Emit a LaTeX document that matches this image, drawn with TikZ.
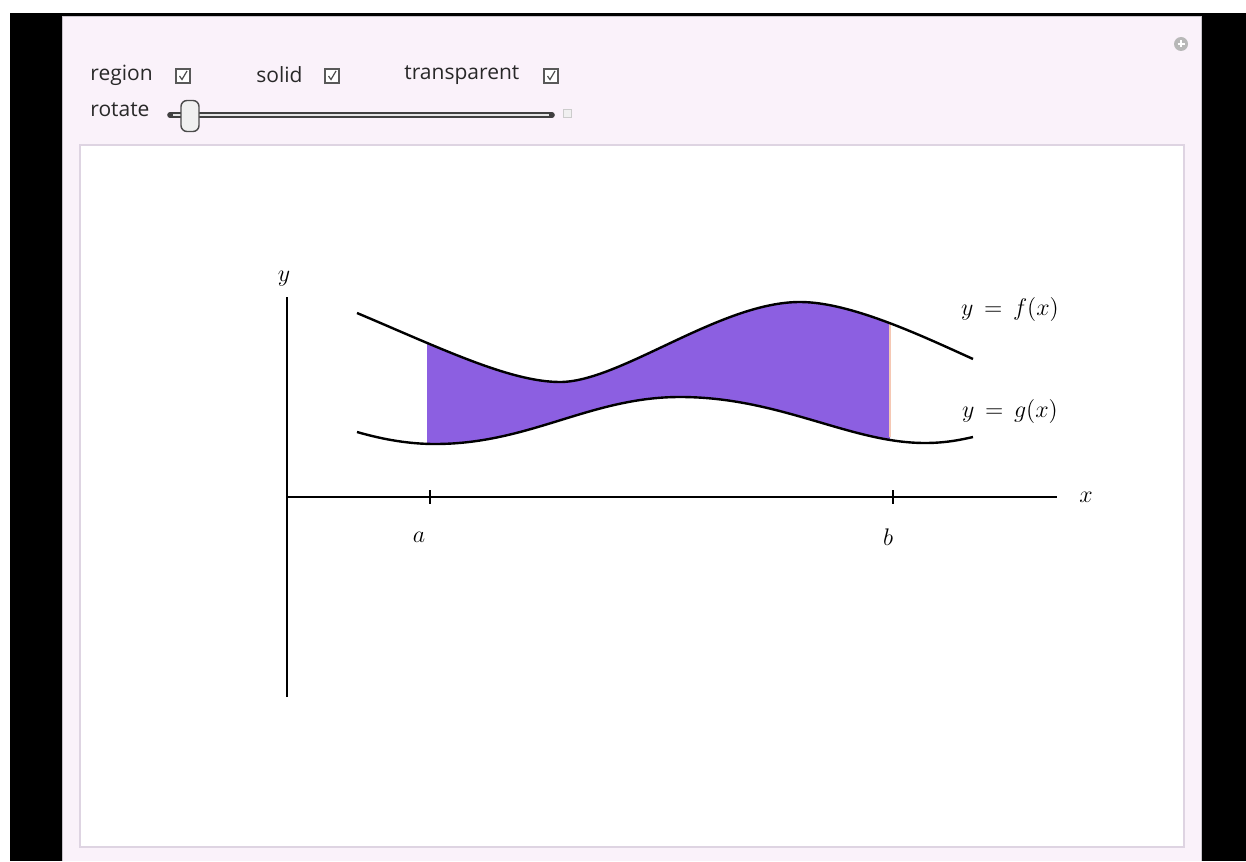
\documentclass[tikz,border=0pt]{standalone}
\usepackage{fontspec}
\newfontfamily\uifont{Open Sans}
\usetikzlibrary{calc}
\definecolor{panelpink}{RGB}{250,242,250}
\definecolor{panelborder}{RGB}{200,195,202}
\definecolor{innerborder}{RGB}{222,212,226}
\definecolor{regionfill}{RGB}{140,95,225}
\definecolor{uitext}{RGB}{40,40,40}
\definecolor{edgepeach}{RGB}{245,200,180}
\tikzset{
  uilabel/.style={font=\uifont\fontsize{10.5}{12}\selectfont, text=uitext, inner sep=0pt},
  mathlabel/.style={font=\fontsize{13}{15}\selectfont, inner sep=0pt},
  checkbox/.style={draw=black!65, line width=0.6pt, fill=white, minimum size=7pt, inner sep=0pt},
  curve/.style={line width=1.2pt, black},
  axis/.style={black, line width=0.8pt},
}
\newcommand{\checkmarkin}[1]{\draw[black!70, line width=0.6pt] ($(#1)+(-3.5,0)$) -- ($(#1)+(-1,3.5)$) -- ($(#1)+(4,-5)$);}
\begin{document}
\begin{tikzpicture}[x=0.5pt,y=-0.5pt]
\useasboundingbox (0,0) rectangle (1246,861);
\fill[white] (0,0) rectangle (1246,861);
% black frame
\fill[black] (10,13) rectangle (1246,861);
% pink panel
\fill[panelpink] (62,16) rectangle (1202,861);
\draw[panelborder, line width=0.8pt] (62.5,861) -- (62.5,16.5) -- (1201.5,16.5) -- (1201.5,861);
% inner white panel
\fill[white] (80,145) rectangle (1184,847);
\draw[innerborder, line width=1pt] (80,145) rectangle (1184,847);
% plus icon top right
\fill[black!28] (1181,44) circle (7);
\draw[white, line width=1.3pt] (1177.5,44) -- (1184.5,44) (1181,40.5) -- (1181,47.5);
% controls
\node[uilabel, anchor=west] (lregion) at (90,75) {region};
\node[checkbox] (cregion) at (183,76) {};
\checkmarkin{cregion}
\node[uilabel, anchor=west] (lsolid) at (256,75) {solid};
\node[checkbox] (csolid) at (332,76) {};
\checkmarkin{csolid}
\node[uilabel, anchor=west] (ltransp) at (404,75) {transparent};
\node[checkbox] (ctransp) at (551,76) {};
\checkmarkin{ctransp}
\node[uilabel, anchor=west] (lrotate) at (90,110) {rotate};
% slider
\coordinate (trackL) at (170,115);
\coordinate (trackR) at (552,115);
\draw[black!75, line width=2.8pt, line cap=round] (trackL) -- (trackR);
\draw[black!10, line width=0.6pt] ($(trackL)+(3,0)$) -- ($(trackR)+(-3,0)$);
\node[draw=black!70, line width=0.7pt, fill=black!6, rounded corners=3pt, minimum width=9pt, minimum height=15.5pt, inner sep=0pt] (thumb) at (190,116) {};
\node[draw=black!20, fill=black!6, minimum size=4pt, inner sep=0pt, line width=0.4pt] (sliderplus) at (567,113) {};
% axes
\coordinate (yaxisTop) at (287,297);
\coordinate (yaxisBot) at (287,697);
\coordinate (xaxisL) at (287,497);
\coordinate (xaxisR) at (1057,497);
\draw[black, line width=1.4pt] (yaxisBot) -- (yaxisTop);
\draw[axis] (xaxisL) -- (xaxisR);
\coordinate (ta) at (430,497);
\coordinate (tb) at (893,497);
\draw[axis] ($(ta)+(0,-7)$) -- ($(ta)+(0,7)$);
\draw[axis] ($(tb)+(0,-7)$) -- ($(tb)+(0,7)$);
% region fill
\begin{scope}
\clip (427,250) rectangle (890,460);
\fill[regionfill] (357,313) .. controls (440,348) and (510,382) .. (560,382)
  .. controls (620,382) and (720,302) .. (800,302)
  .. controls (850,302) and (920,335) .. (973,359)
  -- (973,437) .. controls (960,440) and (945,443) .. (925,443)
  .. controls (850,443) and (780,397) .. (680,397)
  .. controls (590,397) and (530,444) .. (435,444)
  .. controls (410,444) and (385,440) .. (357,432) -- cycle;
\end{scope}
\draw[edgepeach, line width=0.6pt] (890,323) -- (890,437);
% curves
\draw[curve] (357,313) .. controls (440,348) and (510,382) .. (560,382)
  .. controls (620,382) and (720,302) .. (800,302)
  .. controls (850,302) and (920,335) .. (973,359);
\draw[curve] (357,432) .. controls (385,440) and (410,444) .. (435,444)
  .. controls (530,444) and (590,397) .. (680,397)
  .. controls (780,397) and (850,443) .. (925,443)
  .. controls (945,443) and (960,440) .. (973,437);
% labels
\node[mathlabel] (ylab) at (284,279) {$y$};
\node[mathlabel] (xlab) at (1086,497) {$x$};
\node[mathlabel] (alab) at (419,537) {$a$};
\node[mathlabel] (blab) at (888,537) {$b$};
\node[mathlabel] (flab) at (1010,309) {$y\,=\,f(x)$};
\node[mathlabel] (glab) at (1010,411) {$y\,=\,g(x)$};
\end{tikzpicture}
\end{document}
